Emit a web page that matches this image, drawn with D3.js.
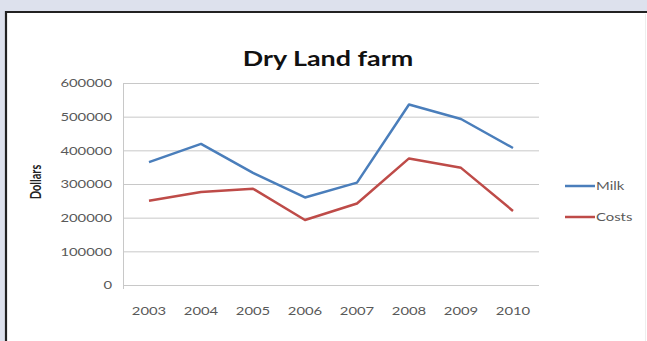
<!DOCTYPE html>
<html>
<head>
<meta charset="utf-8">
<script src="https://cdn.jsdelivr.net/npm/d3@7"></script>
<style>
  html, body { margin: 0; padding: 0; background: #dde1ed; overflow: hidden; }
  svg { display: block; }
  .tick-font { font-family: Lato, "Open Sans", sans-serif; font-size: 11px; fill: #595959; }
</style>
</head>
<body>
<div id="vis1"></div>
<script>
const FRAME_WIDTH = 647;
const FRAME_HEIGHT = 341;
const MARGINS = {left: 123, right: 108, top: 83, bottom: 56};
const STRETCH = 1.35; // the reference text looks stretched sideways

const years = ["2003", "2004", "2005", "2006", "2007", "2008", "2009", "2010"];
const milk = [365000, 419000, 333000, 260000, 304000, 536000, 493000, 407000];
const costs = [250000, 276000, 286000, 193000, 242000, 376000, 348000, 220000];
const yTicks = [0, 100000, 200000, 300000, 400000, 500000, 600000];
const seriesNames = ["Milk", "Costs"];
const seriesColors = ["#4a7ebb", "#be4b48"];

const FRAME1 = d3.select("#vis1")
                  .append("svg")
                  .attr("width", FRAME_WIDTH)
                  .attr("height", FRAME_HEIGHT);

// white panel, border only on left and top (rest runs off the picture)
FRAME1.append("rect")
      .attr("x", 6).attr("y", 12)
      .attr("width", FRAME_WIDTH - 6).attr("height", FRAME_HEIGHT - 12)
      .attr("fill", "#fff");
FRAME1.append("path")
      .attr("d", "M6," + FRAME_HEIGHT + " V12 H" + FRAME_WIDTH)
      .attr("fill", "none")
      .attr("stroke", "#222")
      .attr("stroke-width", 2.2);

const X_Scale = d3.scaleBand()
                  .domain(years)
                  .range([MARGINS.left, FRAME_WIDTH - MARGINS.right]);
const Y_Scale = d3.scaleLinear()
                  .domain([0, 600000])
                  .range([FRAME_HEIGHT - MARGINS.bottom, MARGINS.top]);

// gridlines
FRAME1.append("g")
      .selectAll("line")
      .data(yTicks)
      .enter().append("line")
      .attr("x1", MARGINS.left)
      .attr("x2", FRAME_WIDTH - MARGINS.right)
      .attr("y1", d => Y_Scale(d) + 0.5)
      .attr("y2", d => Y_Scale(d) + 0.5)
      .attr("stroke", "#c8c8c8")
      .attr("stroke-width", 1);

// left axis line
FRAME1.append("line")
      .attr("x1", MARGINS.left + 0.5).attr("x2", MARGINS.left + 0.5)
      .attr("y1", Y_Scale(600000)).attr("y2", Y_Scale(0) + 4)
      .attr("stroke", "#c8c8c8");

// y tick labels
const yAxis = FRAME1.append("g")
      .attr("transform", "translate(" + (MARGINS.left - 11) + ",0)")
      .call(d3.axisLeft(Y_Scale).tickValues(yTicks).tickSize(0).tickFormat(d3.format("d")));
yAxis.select(".domain").remove();
yAxis.selectAll("text")
     .attr("class", "tick-font")
     .attr("x", 0).attr("dy", "0.35em")
     .attr("transform", "scale(" + STRETCH + ",1)");

// x tick labels
const xAxis = FRAME1.append("g")
      .attr("transform", "translate(0," + (FRAME_HEIGHT - MARGINS.bottom) + ")")
      .call(d3.axisBottom(X_Scale).tickSize(0));
xAxis.select(".domain").remove();
xAxis.selectAll("text")
     .attr("class", "tick-font")
     .attr("y", 22)
     .attr("transform", "scale(" + STRETCH + ",1)");

// lines
const line = d3.line()
               .x((d, i) => X_Scale(years[i]) + X_Scale.bandwidth() / 2)
               .y(d => Y_Scale(d));

[milk, costs].forEach((s, i) => {
  FRAME1.append("path")
        .datum(s)
        .attr("d", line)
        .attr("fill", "none")
        .attr("stroke", seriesColors[i])
        .attr("stroke-width", 2.5)
        .attr("stroke-linejoin", "round");
});

// title
FRAME1.append("text")
      .attr("transform", "translate(328,66) scale(1.28,1)")
      .attr("text-anchor", "middle")
      .attr("font-family", "Lato, 'Open Sans', sans-serif")
      .attr("font-weight", "bold")
      .attr("font-size", 21)
      .attr("fill", "#111")
      .text("Dry Land farm");

// y axis title
FRAME1.append("text")
      .attr("transform", "translate(41,182) scale(" + STRETCH + ",1) rotate(-90)")
      .attr("text-anchor", "middle")
      .attr("font-family", "Lato, 'Open Sans', sans-serif")
      .attr("font-weight", "bold")
      .attr("font-size", 11)
      .attr("fill", "#222")
      .text("Dollars");

// legend
const legend = FRAME1.append("g")
      .selectAll("g")
      .data(seriesNames)
      .enter().append("g")
      .attr("transform", (d, i) => "translate(565," + (186 + i * 31) + ")");
legend.append("line")
      .attr("x1", 0).attr("x2", 30)
      .attr("stroke", (d, i) => seriesColors[i])
      .attr("stroke-width", 2.5);
legend.append("text")
      .attr("transform", "translate(31,0) scale(" + STRETCH + ",1)")
      .attr("dy", "0.35em")
      .attr("class", "tick-font")
      .text(d => d);

// faint right edge of the panel
FRAME1.append("line")
      .attr("x1", FRAME_WIDTH - 1.5).attr("x2", FRAME_WIDTH - 1.5)
      .attr("y1", 14).attr("y2", FRAME_HEIGHT)
      .attr("stroke", "#eeeeee");
</script>
</body>
</html>
